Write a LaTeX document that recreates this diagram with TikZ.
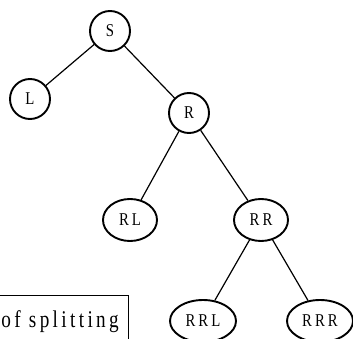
\documentclass[tikz,border=0pt]{standalone}
\usepackage{fontspec}
\setmainfont{Liberation Serif}
\newfontfamily\spaced[LetterSpace=17,FakeStretch=0.82]{Liberation Serif}
\newfontfamily\spacedbox[LetterSpace=14,FakeStretch=0.8]{Liberation Serif}
\usetikzlibrary{shapes.geometric}
\begin{document}
\begin{tikzpicture}[x=1pt,y=-1pt,
  cnode/.style={draw,circle,minimum size=40pt,inner sep=0pt,line width=1.9pt,font=\fontsize{18}{18}\spaced},
  enode/.style={draw,ellipse,minimum width=54pt,minimum height=42pt,inner sep=0pt,line width=1.9pt,font=\fontsize{18}{18}\spaced},
  wide/.style={draw,ellipse,minimum width=66pt,minimum height=42pt,inner sep=0pt,line width=1.9pt,font=\fontsize{18}{18}\spaced},
  edge/.style={line width=1.2pt}]
\useasboundingbox (0,0) rectangle (353,339);
\node[cnode] (S) at (110,31) {S};
\node[cnode] (L) at (30,99) {L};
\node[cnode] (R) at (189,113) {R};
\node[enode] (RL) at (130,220) {RL};
\node[enode] (RR) at (261,220) {RR};
\node[wide] (RRL) at (203,321) {RRL};
\node[wide] (RRR) at (320,321) {RRR};
\draw[edge] (S) -- (L);
\draw[edge] (S) -- (R);
\draw[edge] (R) -- (RL);
\draw[edge] (R) -- (RR);
\draw[edge] (RR) -- (RRL);
\draw[edge] (RR) -- (RRR);
\coordinate (bTL) at (0,295);
\coordinate (bTR) at (128,295);
\coordinate (bBR) at (128,339);
\draw[line width=1pt] (bTL) -- (bTR) -- (bBR);
\node[anchor=base east,inner sep=0pt,font=\fontsize{24}{24}\spacedbox] (txt) at (119,327) {of splitting};
\end{tikzpicture}
\end{document}
